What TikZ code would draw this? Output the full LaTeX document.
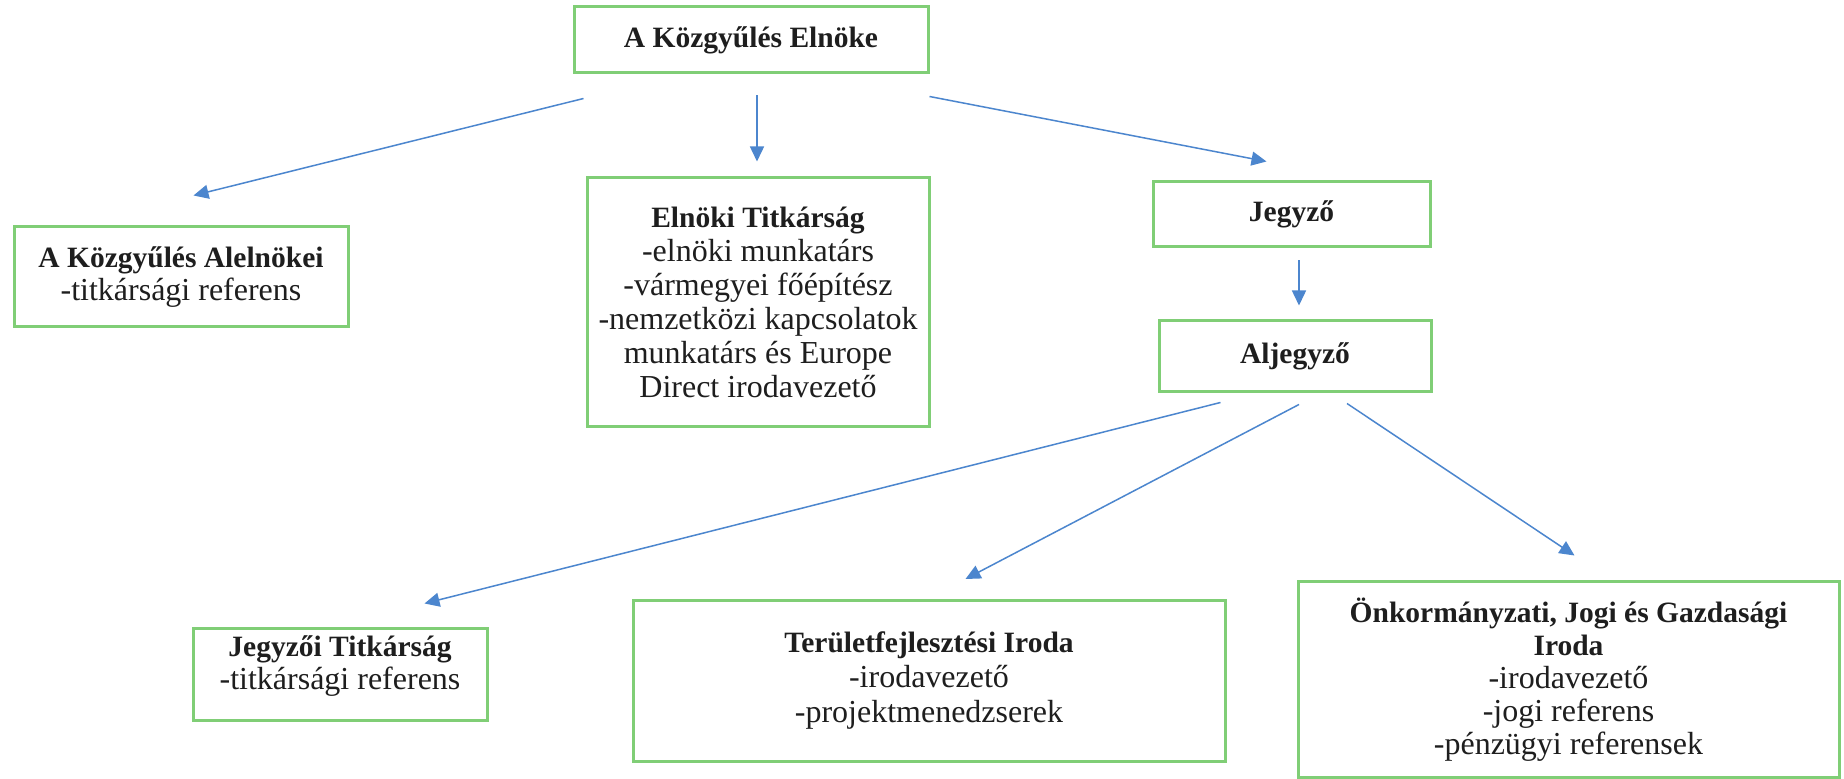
\documentclass[tikz,border=0pt]{standalone}
\usepackage{fontspec}
\setmainfont{Liberation Serif}
\usetikzlibrary{arrows.meta,calc}
\definecolor{boxgreen}{RGB}{128,206,118}
\definecolor{arrblue}{RGB}{76,134,206}
\definecolor{txt}{RGB}{30,30,30}
\newcommand\ttl[1]{{\fontsize{14.75}{17}\selectfont\bfseries #1}}
\tikzset{
  orgbox/.style={draw=boxgreen, line width=1.5pt, fill=white, rectangle, inner sep=0pt,
    align=center, text=txt, font=\fontsize{16}{17}\selectfont},
  arr/.style={draw=arrblue, line width=0.75pt, -{Triangle[length=7.5pt,width=7pt]}}
}
\begin{document}
\begin{tikzpicture}[x=0.5pt,y=-0.5pt]
\useasboundingbox[fill=white] (0,0) rectangle (1844,779);
% boxes
\node[orgbox, minimum width=177pt, minimum height=33pt] (elnok) at (751,40) {\ttl{A Közgyűlés Elnöke}};
\node[orgbox, minimum width=167pt, minimum height=50pt, font=\fontsize{16}{16.5}\selectfont] (alelnok) at (181,277)
  {\ttl{A Közgyűlés Alelnökei}\\-titkársági referens};
\node[orgbox, minimum width=171pt, minimum height=124.5pt] (etitk) at (758,302.5)
  {\ttl{Elnöki Titkárság}\\-elnöki munkatárs\\-vármegyei főépítész\\-nemzetközi kapcsolatok\\munkatárs és Europe\\Direct irodavezető};
\node[orgbox, minimum width=138.5pt, minimum height=32.5pt] (jegyzo) at (1291.5,214.5) {\ttl{Jegyző}};
\node[orgbox, minimum width=136pt, minimum height=35.5pt] (aljegyzo) at (1295,356.5) {\ttl{Aljegyző}};
\node[orgbox, minimum width=147pt, minimum height=46pt, text depth=12pt, font=\fontsize{16}{16.5}\selectfont] (jtitk) at (340,675)
  {\ttl{Jegyzői Titkárság}\\-titkársági referens};
\node[orgbox, minimum width=296pt, minimum height=80.5pt, font=\fontsize{16}{17.5}\selectfont] (terf) at (929,681)
  {\ttl{Területfejlesztési Iroda}\\-irodavezető\\-projektmenedzserek};
\node[orgbox, minimum width=270.5pt, minimum height=98pt, font=\fontsize{16}{16.5}\selectfont] (onk) at (1568.5,680)
  {\ttl{Önkormányzati, Jogi és Gazdasági}\\\ttl{Iroda}\\-irodavezető\\-jogi referens\\-pénzügyi referensek};
% connectors
\draw[arr] ($(elnok.south west)+(11,24)$) -- ($(alelnok.north west)+(181,-30)$);
\draw[arr] ($(elnok.south)+(6,21)$) -- ($(etitk.north)+(-1,-15)$);
\draw[arr] ($(elnok.south east)+(0,22)$) -- ($(jegyzo.north west)+(115,-19)$);
\draw[arr] ($(jegyzo.south)+(7.5,12)$) -- ($(aljegyzo.north)+(4,-14)$);
\draw[arr] ($(aljegyzo.south west)+(63,9)$) -- ($(jtitk.north west)+(233,-24)$);
\draw[arr] ($(aljegyzo.south)+(4,11)$) -- ($(terf.north west)+(334,-20)$);
\draw[arr] ($(aljegyzo.south)+(52,10)$) -- ($(onk.north west)+(278,-25)$);
\end{tikzpicture}
\end{document}
